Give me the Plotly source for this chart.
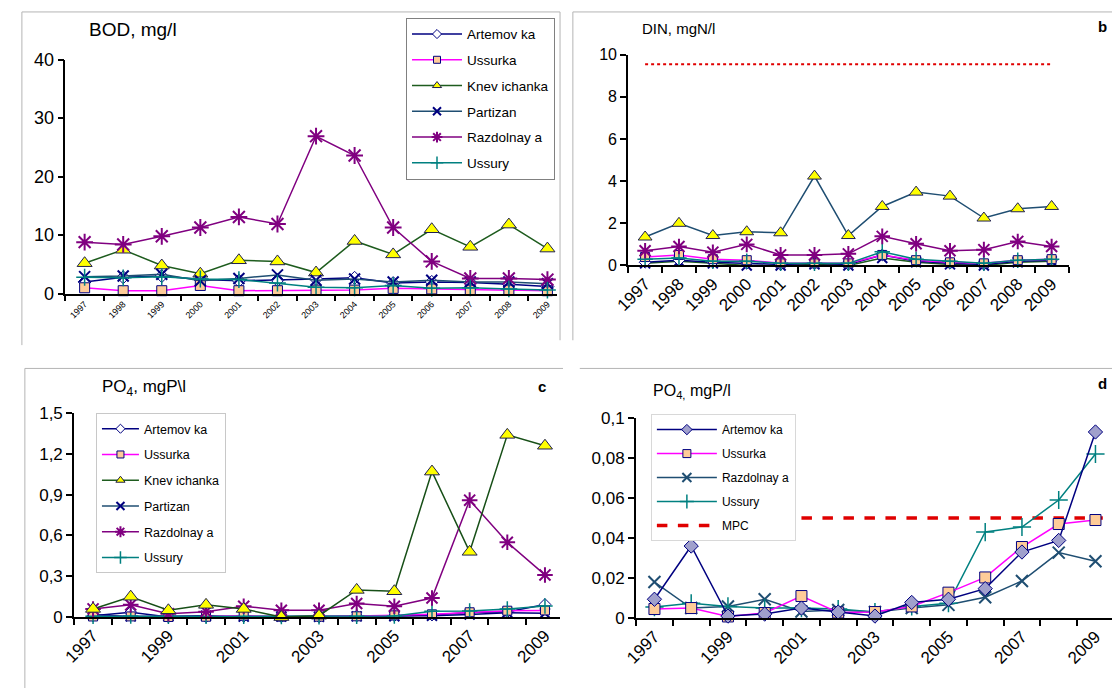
import plotly.graph_objects as go

W, H = 1112, 698
FONT = "Arial, 'Liberation Sans', sans-serif"

years = list(range(1997, 2010))
year_labels = [str(y) for y in years]
odd_years = [1997, 1999, 2001, 2003, 2005, 2007, 2009]

# ---- BOD, mg/l ----
bod_artemovka = [2.0, 2.8, 3.0, 2.4, 2.2, 2.3, 2.5, 2.7, 1.8, 2.0, 1.9, 1.6, 1.2]
bod_ussurka = [1.0, 0.5, 0.5, 1.4, 0.5, 0.5, 0.6, 0.6, 0.9, 0.8, 0.6, 0.6, 0.5]
bod_knevichanka = [5.2, 7.5, 4.8, 3.4, 5.7, 5.5, 3.6, 9.0, 6.7, 11.0, 8.0, 11.8, 7.7]
bod_partizan = [2.9, 3.0, 3.3, 2.2, 2.6, 3.2, 2.3, 2.5, 2.0, 2.3, 2.0, 2.0, 1.7]
bod_razdolnaya = [8.8, 8.4, 9.8, 11.3, 13.1, 11.9, 26.9, 23.6, 11.3, 5.5, 2.6, 2.6, 2.4]
bod_ussury = [2.8, 2.7, 2.9, 2.5, 2.4, 1.8, 1.1, 1.0, 1.4, 0.9, 1.0, 0.8, 0.6]

# ---- DIN, mgN/l ----
din_artemovka = [0.15, 0.25, 0.15, 0.1, 0.05, 0.1, 0.05, 0.5, 0.2, 0.1, 0.05, 0.2, 0.25]
din_ussurka = [0.4, 0.5, 0.3, 0.25, 0.1, 0.1, 0.1, 0.5, 0.25, 0.15, 0.1, 0.25, 0.3]
din_knevichanka = [1.35, 2.0, 1.42, 1.6, 1.55, 4.24, 1.42, 2.8, 3.48, 3.29, 2.25, 2.69, 2.8]
din_partizan = [0.1, 0.2, 0.1, 0.0, 0.0, 0.05, 0.0, 0.35, 0.15, 0.05, 0.0, 0.15, 0.2]
din_razdolnaya = [0.7, 0.9, 0.63, 1.0, 0.5, 0.5, 0.55, 1.38, 1.03, 0.7, 0.75, 1.14, 0.9]
din_ussury = [0.3, 0.35, 0.2, 0.2, 0.1, 0.1, 0.1, 0.65, 0.3, 0.2, 0.1, 0.25, 0.3]
din_mpc_years = [1997, 2009]
din_mpc = [9.55, 9.55]

# ---- PO4, mgP/l ----
po4_artemovka = [0.0094, 0.036, 0.001, 0.002, 0.005, 0.003, 0.001, 0.0078, 0.0094, 0.0147, 0.033, 0.0388, 0.093]
po4_ussurka = [0.0045, 0.005, 0.0008, 0.0025, 0.011, 0.0028, 0.003, 0.0058, 0.0127, 0.0203, 0.0355, 0.047, 0.049]
po4_knevichanka = [0.06, 0.15, 0.05, 0.09, 0.06, 0.0, 0.01, 0.2, 0.19, 1.07, 0.48, 1.34, 1.26]
po4_partizan = [0.018, 0.005, 0.0058, 0.0094, 0.0033, 0.004, 0.003, 0.005, 0.0066, 0.0104, 0.0185, 0.0327, 0.0284]
po4_razdolnaya = [0.06, 0.09, 0.025, 0.04, 0.08, 0.05, 0.05, 0.10, 0.08, 0.14, 0.86, 0.55, 0.31]
po4_ussury = [0.0055, 0.0074, 0.0058, 0.005, 0.005, 0.0045, 0.003, 0.0058, 0.0074, 0.043, 0.0455, 0.059, 0.082]
po4_mpc_years = [1997, 2009.2]
po4_mpc = [0.05, 0.05]

# axis tick labels
bod_ticks = [0, 10, 20, 30, 40]
din_ticks = [0, 2, 4, 6, 8, 10]
po4c_ticks = [0, 0.3, 0.6, 0.9, 1.2, 1.5]
po4c_ticktext = ["0", "0,3", "0,6", "0,9", "1,2", "1,5"]
po4d_ticks = [0, 0.02, 0.04, 0.06, 0.08, 0.1]
po4d_ticktext = ["0", "0,02", "0,04", "0,06", "0,08", "0,1"]

NAVY = "#000080"
MAGENTA = "#FF00FF"
GREEN = "#1E5C1E"
SLATE = "#1F4E72"
PURPLE = "#800080"
TEAL = "#008080"
TAN = "#FFCC99"
YELLOW = "#FFFF00"
LAVENDER = "#A0A0CC"
RED = "#E00000"


def px(x):
    return x / W


def py(y):
    return 1 - y / H


fig = go.Figure()


def series(xa, ya, y, line_color, symbol, size, fill, edge, lw=1.5, edge_w=1.0):
    fig.add_trace(go.Scatter(
        x=years, y=y, mode="lines+markers", xaxis=xa, yaxis=ya,
        line=dict(color=line_color, width=lw),
        marker=dict(symbol=symbol, size=size, color=fill,
                    line=dict(color=edge, width=edge_w)),
        showlegend=False, cliponaxis=False, hoverinfo="skip"))


def legend_entry(xa, ya, legend, name, line_color, symbol, size, fill, edge,
                 lw=1.5, edge_w=1.0, dash="solid", mode="lines+markers"):
    fig.add_trace(go.Scatter(
        x=[None], y=[None], mode=mode, xaxis=xa, yaxis=ya, name=name,
        legend=legend, legendgroup=legend + name,
        line=dict(color=line_color, width=lw, dash=dash),
        marker=dict(symbol=symbol, size=size, color=fill,
                    line=dict(color=edge, width=edge_w)),
        showlegend=True))


# ---------- panel a: BOD ----------
series("x", "y", bod_artemovka, NAVY, "diamond", 10, "#FFFFFF", NAVY)
series("x", "y", bod_ussurka, MAGENTA, "square", 10, TAN, NAVY)
series("x", "y", bod_knevichanka, GREEN, "triangle-up", 13, YELLOW, "#202050")
series("x", "y", bod_partizan, SLATE, "x-thin-open", 11, NAVY, NAVY, edge_w=2)
series("x", "y", bod_razdolnaya, PURPLE, "asterisk-open", 14, PURPLE, PURPLE, edge_w=2)
series("x", "y", bod_ussury, TEAL, "cross-thin-open", 12, TEAL, TEAL, edge_w=1.5)

# ---------- panel b: DIN ----------
fig.add_trace(go.Scatter(x=din_mpc_years, y=din_mpc, mode="lines", xaxis="x2", yaxis="y2",
                         line=dict(color=RED, width=2, dash="dot"),
                         showlegend=False, hoverinfo="skip"))
series("x2", "y2", din_partizan, GREEN, "x-thin-open", 10, NAVY, NAVY, edge_w=2)
series("x2", "y2", din_artemovka, NAVY, "diamond", 9, "#FFFFFF", NAVY)
series("x2", "y2", din_ussurka, MAGENTA, "square", 9, TAN, NAVY)
series("x2", "y2", din_ussury, TEAL, "cross-thin-open", 11, TEAL, TEAL, edge_w=1.5)
series("x2", "y2", din_razdolnaya, PURPLE, "asterisk-open", 13, PURPLE, PURPLE, edge_w=2)
series("x2", "y2", din_knevichanka, SLATE, "triangle-up", 12, YELLOW, "#202050")

# ---------- panel c: PO4 ----------
series("x3", "y3", po4_partizan, NAVY, "x-thin-open", 10, NAVY, NAVY, edge_w=2)
series("x3", "y3", po4_artemovka, NAVY, "diamond", 9, "#FFFFFF", NAVY)
series("x3", "y3", po4_ussurka, MAGENTA, "square", 9, TAN, NAVY)
series("x3", "y3", po4_ussury, TEAL, "cross-thin-open", 11, TEAL, TEAL, edge_w=1.5)
series("x3", "y3", po4_razdolnaya, PURPLE, "asterisk-open", 13, PURPLE, PURPLE, edge_w=2)
series("x3", "y3", po4_knevichanka, "#174F17", "triangle-up", 13, YELLOW, "#202050")

# ---------- panel d: PO4 (low range) ----------
fig.add_trace(go.Scatter(x=po4_mpc_years, y=po4_mpc, mode="lines", xaxis="x4", yaxis="y4",
                         line=dict(color=RED, width=3.5, dash="dash"),
                         showlegend=False, hoverinfo="skip"))
series("x4", "y4", po4_partizan, SLATE, "x-thin-open", 12, SLATE, SLATE, edge_w=2)
series("x4", "y4", po4_ussury, TEAL, "cross-thin-open", 13, TEAL, TEAL, edge_w=1.5)
series("x4", "y4", po4_ussurka, MAGENTA, "square", 11, TAN, NAVY)
series("x4", "y4", po4_artemovka, NAVY, "diamond", 11, LAVENDER, NAVY)

# ---------- legends ----------
for lg, xa, ya in (("legend", "x", "y"), ("legend2", "x3", "y3")):
    legend_entry(xa, ya, lg, "Artemov ka", NAVY, "diamond", 7, "#FFFFFF", NAVY)
    legend_entry(xa, ya, lg, "Ussurka", MAGENTA, "square", 7, TAN, NAVY)
    legend_entry(xa, ya, lg, "Knev ichanka", GREEN, "triangle-up", 8, YELLOW, "#202050")
    legend_entry(xa, ya, lg, "Partizan", SLATE, "x-thin-open", 8, NAVY, NAVY, edge_w=2)
    legend_entry(xa, ya, lg, "Razdolnay a", PURPLE, "asterisk-open", 9, PURPLE, PURPLE, edge_w=2)
    legend_entry(xa, ya, lg, "Ussury", TEAL, "cross-thin-open", 9, TEAL, TEAL, edge_w=1.5)

legend_entry("x4", "y4", "legend3", "Artemov ka", NAVY, "diamond", 8, LAVENDER, NAVY)
legend_entry("x4", "y4", "legend3", "Ussurka", MAGENTA, "square", 8, TAN, NAVY)
legend_entry("x4", "y4", "legend3", "Razdolnay a", SLATE, "x-thin-open", 9, SLATE, SLATE, edge_w=2)
legend_entry("x4", "y4", "legend3", "Ussury", TEAL, "cross-thin-open", 10, TEAL, TEAL, edge_w=1.5)
legend_entry("x4", "y4", "legend3", "MPC", RED, "circle", 1, RED, RED, lw=3.5, dash="dash", mode="lines")

# ---------- axes ----------
half_steps = [y - 0.5 for y in years] + [years[-1] + 0.5]


def xaxis(dom, rng, anchor, tickvals, ticktext, fsize, lw=2):
    return dict(domain=[px(dom[0]), px(dom[1])], range=rng, anchor=anchor,
                tickmode="array", tickvals=tickvals, ticktext=ticktext,
                tickangle=-45, tickfont=dict(size=fsize, color="black", family=FONT),
                ticks="", showgrid=False, zeroline=False,
                showline=True, linecolor="black", linewidth=lw,
                minor=dict(tickmode="array", tickvals=half_steps, ticks="outside",
                           ticklen=6, tickwidth=1.5, tickcolor="black", showgrid=False))


def yaxis(dom, rng, anchor, tickvals, ticktext, fsize, lw=2):
    return dict(domain=[py(dom[0]), py(dom[1])], range=rng, anchor=anchor,
                tickmode="array", tickvals=tickvals, ticktext=ticktext,
                tickfont=dict(size=fsize, color="black", family=FONT),
                ticks="outside", ticklen=6, tickwidth=1.5, tickcolor="black",
                showgrid=False, zeroline=False,
                showline=True, linecolor="black", linewidth=lw)


fig.update_layout(
    xaxis=xaxis((52, 550), [1996.5, 2009.25], "y", years, year_labels, 9, lw=1.5),
    yaxis=yaxis((292, 51), [0, 40], "x", bod_ticks, [str(t) for t in bod_ticks], 18, lw=1.5),
    xaxis2=xaxis((622, 1068), [1996.5, 2009.5], "y2", years, year_labels, 17),
    yaxis2=yaxis((263, 46), [0, 10], "x2", din_ticks, [str(t) for t in din_ticks], 16),
    xaxis3=xaxis((61, 553), [1996.5, 2009.4], "y3", odd_years, [str(y) for y in odd_years], 17),
    yaxis3=yaxis((625, 415), [0, 1.5], "x3", po4c_ticks, po4c_ticktext, 17),
    xaxis4=xaxis((630, 1112), [1996.5, 2009.45], "y4", odd_years, [str(y) for y in odd_years], 17),
    yaxis4=yaxis((626, 420), [0, 0.1], "x4", po4d_ticks, po4d_ticktext, 17),
)

legend_common = dict(bgcolor="#FFFFFF", borderwidth=1, xanchor="left", yanchor="top",
                     traceorder="grouped")
fig.update_layout(
    legend=dict(x=px(397), y=py(8), bordercolor="#808080", itemwidth=50, tracegroupgap=5.2,
                font=dict(size=13.5, family=FONT, color="black"), **legend_common),
    legend2=dict(x=px(83), y=py(415), bordercolor="#C8C8C8", itemwidth=37, tracegroupgap=6.5,
                 font=dict(size=12.5, family=FONT, color="black"), **legend_common),
    legend3=dict(x=px(645), y=py(416), bordercolor="#D8D8D8", itemwidth=60, tracegroupgap=5,
                 font=dict(size=12, family=FONT, color="black"), **legend_common),
)

# ---------- titles and panel letters ----------
def label(x, y, text, size):
    fig.add_annotation(x=px(x), y=py(y), xref="paper", yref="paper", text=text,
                       showarrow=False, xanchor="left", yanchor="middle",
                       font=dict(size=size, family=FONT, color="black"))


label(74, 20, "BOD, mg/l", 19)
label(634, 19, "DIN, mgN/l", 15)
label(1096, 17, "<b>b</b>", 15)
label(87, 389, "PO<sub>4</sub>, mgP\\l", 17)
label(529, 388, "<b>c</b>", 15)
label(645, 393, "PO<sub>4,</sub> mgP/l", 16)
label(1096, 385, "<b>d</b>", 15)

# ---------- chart-area frames ----------
frame = dict(type="line", xref="paper", yref="paper", line=dict(color="#B4B4B4", width=1))
for x0, y0, x1, y1 in [
    (8, 2, 553, 2), (8, 2, 8, 345), (553, 2, 553, 340),
    (566, 2, 1112, 2), (566, 2, 566, 340),
    (11, 369, 556, 369), (11, 369, 11, 698),
    (573, 369, 1112, 369),
]:
    fig.add_shape(x0=px(x0), y0=py(y0), x1=px(x1), y1=py(y1), **frame)

fig.update_layout(
    width=W, height=H, margin=dict(l=0, r=0, t=0, b=0),
    paper_bgcolor="white", plot_bgcolor="white",
    font=dict(family=FONT, color="black"),
)

fig.write_html("out.html")
